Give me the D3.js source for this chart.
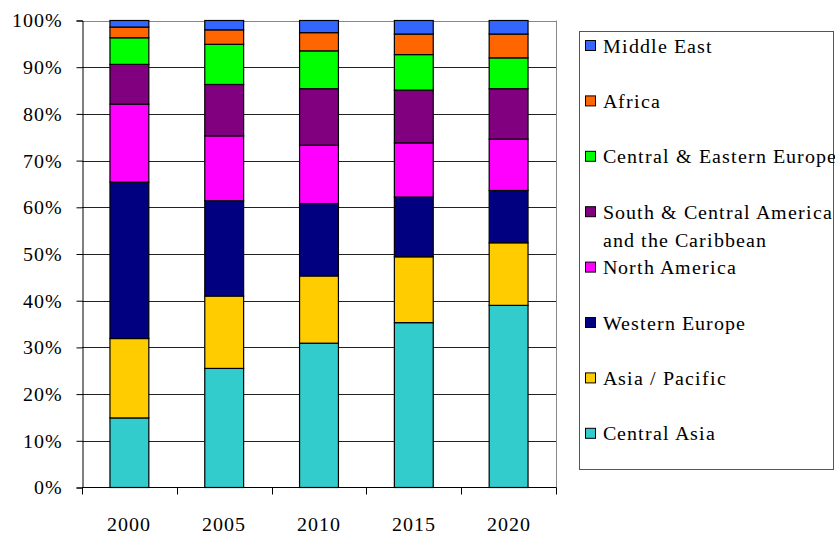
<!DOCTYPE html>
<html>
<head>
<meta charset="utf-8">
<script src="https://cdn.jsdelivr.net/npm/d3@7"></script>
<style>
  @font-face { font-family: "ChartSerif"; src: local("Liberation Serif"), local("LiberationSerif"), local("Times New Roman"); }
  body { margin: 0; background: #fff; }
  #chart text { font-family: "ChartSerif", "Liberation Serif", "Times New Roman", serif !important; }
</style>
</head>
<body>
<svg id="chart" width="835" height="533"></svg>
<script>
const years = ["2000", "2005", "2010", "2015", "2020"];
const seriesNames = ["Central Asia", "Asia / Pacific", "Western Europe", "North America",
  "South & Central America and the Caribbean", "Central & Eastern Europe", "Africa", "Middle East"];
const centralAsia   = [14.9, 25.5, 30.9, 35.3, 39.0];
const asiaPacific   = [17.0, 15.5, 14.4, 14.1, 13.4];
const westernEurope = [33.5, 20.4, 15.5, 12.8, 11.2];
const northAmerica  = [16.7, 13.9, 12.5, 11.6, 11.0];
const southCentral  = [8.5, 11.0, 12.1, 11.3, 10.8];
const centralEastern= [5.7, 8.6, 8.1, 7.6, 6.6];
const africa        = [2.3, 3.1, 3.9, 4.4, 5.1];
const middleEast    = [1.4, 2.0, 2.6, 2.9, 2.9];
const yTicks = [0, 10, 20, 30, 40, 50, 60, 70, 80, 90, 100];
const colors = ["#33CCCC", "#FFCC00", "#000080", "#FF00FF", "#800080", "#00FF00", "#FF6600", "#3366FF"];

const seriesValues = [centralAsia, asiaPacific, westernEurope, northAmerica, southCentral, centralEastern, africa, middleEast];
const rows = years.map((yr, i) => {
  const r = { year: yr };
  seriesNames.forEach((s, k) => r[s] = seriesValues[k][i]);
  return r;
});

const svg = d3.select("#chart");
const pLeft = 82, pRight = 556, pTop = 20.5, pBottom = 487.5;

const x = d3.scaleBand().domain(years).range([pLeft, pRight]).paddingInner(0.59).paddingOuter(0.295);
const y = d3.scaleLinear().domain([0, 100]).range([pBottom, pTop]);

svg.append("g").selectAll("line").data(yTicks.filter(d => d > 0)).join("line")
  .attr("x1", pLeft).attr("x2", pRight)
  .attr("y1", d => Math.round(y(d)) + 0.5).attr("y2", d => Math.round(y(d)) + 0.5)
  .attr("stroke", d => d === 100 ? "#888" : "#222").attr("stroke-width", 1);
svg.append("line").attr("x1", pRight + 0.5).attr("x2", pRight + 0.5).attr("y1", pTop).attr("y2", pBottom)
  .attr("stroke", "#888");

const stacked = d3.stack().keys(seriesNames)(rows);
svg.append("g").selectAll("g").data(stacked).join("g")
  .attr("fill", (d, i) => colors[i])
  .selectAll("rect").data(d => d).join("rect")
  .attr("x", d => x(d.data.year))
  .attr("width", x.bandwidth())
  .attr("y", d => y(d[1]))
  .attr("height", d => y(d[0]) - y(d[1]))
  .attr("stroke", "#000").attr("stroke-width", 1.2);

const yAxis = svg.append("g").attr("transform", `translate(${pLeft + 0.5},0)`)
  .call(d3.axisLeft(y).tickValues(yTicks).tickFormat(d => d + "%").tickSize(6).tickPadding(14));
yAxis.attr("font-family", null).attr("font-size", 20);
yAxis.select(".domain").attr("stroke", "#000");
yAxis.selectAll(".tick line").attr("stroke", "#000");
yAxis.selectAll("text").attr("fill", "#000").attr("font-size", 20).attr("letter-spacing", 1);

const xAxis = svg.append("g").attr("transform", `translate(0,${pBottom})`);
xAxis.append("line").attr("x1", pLeft).attr("x2", pRight + 0.5).attr("y1", 0).attr("y2", 0).attr("stroke", "#000");
const bounds = years.map(yr => x(yr) - x.step() * x.paddingInner() / 2).concat([pRight]);
xAxis.selectAll("line.tk").data(bounds).join("line").attr("class", "tk")
  .attr("x1", d => Math.round(d) + 0.5).attr("x2", d => Math.round(d) + 0.5)
  .attr("y1", 0).attr("y2", 7).attr("stroke", "#000");
xAxis.selectAll("text").data(years).join("text")
  .attr("x", d => x(d) + x.bandwidth() / 2).attr("y", 43)
  .attr("text-anchor", "middle").attr("font-size", 20).attr("letter-spacing", 1)
  .text(d => d);

const lg = svg.append("g");
lg.append("rect").attr("x", 579.5).attr("y", 31.5).attr("width", 254).attr("height", 438)
  .attr("fill", "#fff").attr("stroke", "#555");
const legendOrder = seriesNames.map((s, i) => ({ name: s, color: colors[i] })).reverse();
const legendLabels = {
  "South & Central America and the Caribbean": ["South & Central America", "and the Caribbean"]
};
legendOrder.forEach((d, i) => {
  const cy = 46 + i * 55.4;
  lg.append("rect").attr("x", 585.5).attr("y", cy - 5.5).attr("width", 10).attr("height", 10)
    .attr("fill", d.color).attr("stroke", "#000").attr("stroke-width", 1);
  const lines = legendLabels[d.name] || [d.name];
  lines.forEach((t, j) => {
    lg.append("text").attr("x", 603).attr("y", cy + 6.5 + j * 28)
      .attr("fill", "#000").attr("font-size", 20).attr("letter-spacing", 1)
      .text(t);
  });
});
</script>
</body>
</html>
